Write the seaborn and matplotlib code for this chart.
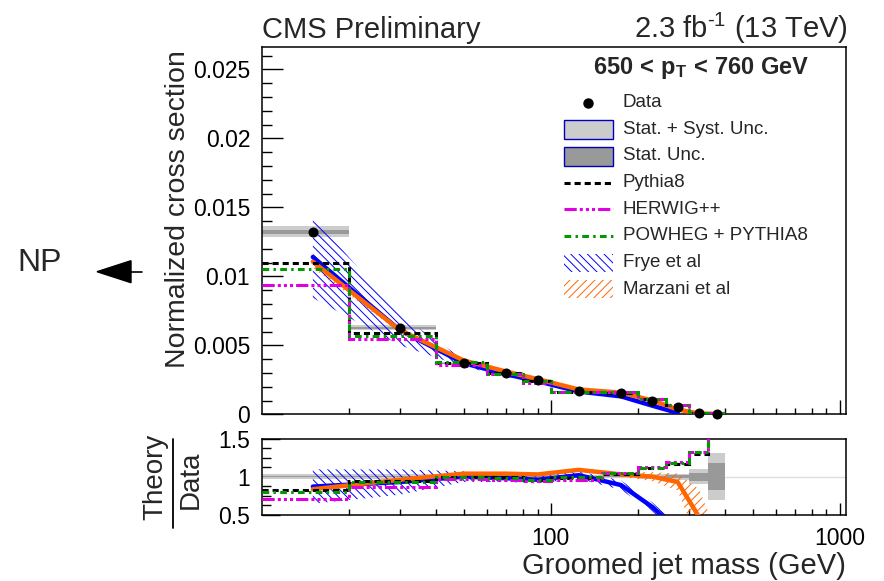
import numpy as np
import matplotlib
matplotlib.use("Agg")
import matplotlib.pyplot as plt
import seaborn as sns
from matplotlib.lines import Line2D
from matplotlib.patches import Rectangle, Polygon
from matplotlib.ticker import FixedLocator, MultipleLocator, NullFormatter, FuncFormatter

# ---------------- data ----------------
bin_edges = [10, 20, 40, 60, 80, 100, 150, 200, 250, 300, 350, 400]
bin_centers = [15, 30, 50, 70, 90, 125, 175, 225, 275, 325, 375]

data_values = [0.01323, 0.00628, 0.00370, 0.00300, 0.00249, 0.00166, 0.00152, 0.00099, 0.00055, 0.00008, 0.00003]
data_rel_total = [0.03, 0.03, 0.02, 0.02, 0.02, 0.02, 0.02, 0.03, 0.04, 0.10, 0.31]
data_rel_stat = [0.01, 0.01, 0.01, 0.01, 0.01, 0.01, 0.01, 0.015, 0.02, 0.05, 0.18]

pythia8_values = [0.0110, 0.0059, 0.0037, 0.0030, 0.0024, 0.00163, 0.00157, 0.00110, 0.00064, 0.00011, 0.00006]
herwig_values = [0.0094, 0.00545, 0.0036, 0.0029, 0.0023, 0.00160, 0.00160, 0.00112, 0.00066, 0.00011, 0.00006]
powheg_values = [0.0105, 0.0057, 0.0038, 0.00295, 0.0024, 0.00165, 0.00160, 0.00111, 0.00065, 0.00011, 0.00006]

pythia8_ratio = [0.825, 0.945, 0.99, 0.99, 0.96, 0.98, 1.04, 1.11, 1.17, 1.30, 1.8]
herwig_ratio = [0.71, 0.87, 0.97, 0.96, 0.94, 0.96, 1.05, 1.13, 1.19, 1.33, 1.8]
powheg_ratio = [0.795, 0.925, 1.00, 0.98, 0.96, 0.99, 1.05, 1.12, 1.18, 1.32, 1.8]

frye_mass = [15, 30, 50, 70, 90, 125, 175, 225, 275]
frye_values = [0.0114, 0.0061, 0.0037, 0.0029, 0.0024, 0.00165, 0.00130, 0.00062, 0.0001]
frye_ratio = [0.87, 0.93, 1.00, 0.98, 0.96, 1.02, 0.89, 0.60, 0.30]
frye_rel_band = [0.26, 0.18, 0.07, 0.05, 0.05, 0.05, 0.07, 0.10, 0.20]

marzani_mass = [15, 30, 50, 70, 90, 125, 175, 225, 275, 325, 375]
marzani_values = [0.01106, 0.0061, 0.0039, 0.0031, 0.00255, 0.00180, 0.00157, 0.00100, 0.00035, 0.00006, 0.00002]
marzani_ratio = [0.835, 0.96, 1.04, 1.04, 1.03, 1.09, 1.03, 1.00, 0.93, 0.48, 0.15]
marzani_rel_band = [0.04, 0.03, 0.02, 0.02, 0.02, 0.02, 0.03, 0.06, 0.12, 0.75, 0.9]

# ---------------- style ----------------
sns.set_theme(style="ticks")
plt.rcParams["font.family"] = ["Liberation Sans", "DejaVu Sans"]
plt.rcParams["mathtext.fontset"] = "custom"
plt.rcParams["mathtext.rm"] = "Liberation Sans"
plt.rcParams["mathtext.it"] = "Liberation Sans:italic"
plt.rcParams["mathtext.bf"] = "Liberation Sans:bold"
plt.rcParams["hatch.linewidth"] = 0.7
plt.rcParams["axes.linewidth"] = 1.1

W, H = 884, 581
fig = plt.figure(figsize=(W / 100, H / 100), dpi=100)


def F(x, y):
    return (x / W, 1 - y / H)


L, R = 262, 845.7
ax = fig.add_axes([L / W, 1 - 414.3 / H, (R - L) / W, (414.3 - 47.3) / H])
axr = fig.add_axes([L / W, 1 - 514.7 / H, (R - L) / W, (514.7 - 438.7) / H])

BLUE = "#0000ff"
ORANGE = "#ff6600"
MAG = "#e000e0"
GREEN = "#009900"
LGRAY = "#cccccc"
DGRAY = "#999999"
HATCH_B = "\\\\\\\\"
HATCH_O = "////"

edges = np.array(bin_edges, dtype=float)
widths = np.diff(edges)
dv = np.array(data_values)

ls_pythia = (0, (2.0, 1.3))
ls_herwig = (0, (4.0, 1.0, 1.0, 1.0, 1.0, 1.0, 1.0, 1.0))
ls_powheg = (0, (2.2, 1.4, 0.8, 1.4))
mc_lw = 2.2
th_lw = 3.2

# ---------------- top panel ----------------
tot = dv * np.array(data_rel_total)
sta = dv * np.array(data_rel_stat)
ax.bar(edges[:-1], 2 * tot, bottom=dv - tot, width=widths, align="edge", color=LGRAY, lw=0, zorder=1)
ax.bar(edges[:-1], 2 * sta, bottom=dv - sta, width=widths, align="edge", color=DGRAY, lw=0, zorder=1.1)

fv = np.array(frye_values); fr = np.array(frye_rel_band)
ax.fill_between(frye_mass, fv * (1 - fr), fv * (1 + fr), facecolor="none", edgecolor=BLUE,
                hatch=HATCH_B, lw=0, zorder=2)
mv = np.array(marzani_values); mr = np.array(marzani_rel_band)
ax.fill_between(marzani_mass, mv * (1 - mr), mv * (1 + mr), facecolor="none", edgecolor=ORANGE,
                hatch=HATCH_O, lw=0, zorder=2)

sns.lineplot(x=frye_mass, y=frye_values, ax=ax, color=BLUE, lw=th_lw, estimator=None, sort=False, zorder=3)
sns.lineplot(x=marzani_mass, y=marzani_values, ax=ax, color=ORANGE, lw=th_lw, estimator=None, sort=False, zorder=3.1)

ax.stairs(pythia8_values, edges, baseline=None, color="black", lw=mc_lw, linestyle=ls_pythia, zorder=4)
ax.stairs(herwig_values, edges, baseline=None, color=MAG, lw=mc_lw, linestyle=ls_herwig, zorder=4)
ax.stairs(powheg_values, edges, baseline=None, color=GREEN, lw=mc_lw, linestyle=ls_powheg, zorder=4)

sns.scatterplot(x=bin_centers, y=data_values, ax=ax, color="black", s=52, edgecolor="black",
                linewidth=0, zorder=5, clip_on=False)

ax.set_xscale("log")
ax.set_xlim(10, 1050)
ax.set_ylim(0, 0.0266)

# ---------------- ratio panel ----------------
axr.axhline(1, color="#dddddd", lw=1, zorder=0)
rt = np.array(data_rel_total); rs = np.array(data_rel_stat)
axr.bar(edges[:-1], 2 * rt, bottom=1 - rt, width=widths, align="edge", color=LGRAY, lw=0, zorder=1)
axr.bar(edges[:-1], 2 * rs, bottom=1 - rs, width=widths, align="edge", color=DGRAY, lw=0, zorder=1.1)

frr = np.array(frye_ratio)
axr.fill_between(frye_mass, frr * (1 - fr), frr * (1 + fr), facecolor="none", edgecolor=BLUE,
                 hatch=HATCH_B, lw=0, zorder=2)
mrr = np.array(marzani_ratio)
axr.fill_between(marzani_mass, mrr * (1 - mr), mrr * (1 + mr), facecolor="none", edgecolor=ORANGE,
                 hatch=HATCH_O, lw=0, zorder=2)

sns.lineplot(x=frye_mass, y=frye_ratio, ax=axr, color=BLUE, lw=th_lw, estimator=None, sort=False, zorder=3)
sns.lineplot(x=marzani_mass, y=marzani_ratio, ax=axr, color=ORANGE, lw=th_lw, estimator=None, sort=False, zorder=3.1)

axr.stairs(pythia8_ratio, edges, baseline=None, color="black", lw=mc_lw, linestyle=ls_pythia, zorder=4)
axr.stairs(herwig_ratio, edges, baseline=None, color=MAG, lw=mc_lw, linestyle=ls_herwig, zorder=4)
axr.stairs(powheg_ratio, edges, baseline=None, color=GREEN, lw=mc_lw, linestyle=ls_powheg, zorder=4)

axr.set_xscale("log")
axr.set_xlim(10, 1050)
axr.set_ylim(0.5, 1.5)

# ---------------- axes cosmetics ----------------
minor_x = [20, 30, 40, 50, 60, 70, 80, 90, 200, 300, 400, 500, 600, 700, 800, 900]
for a in (ax, axr):
    for s in a.spines.values():
        s.set_color("black")
        s.set_linewidth(1.1)
    a.xaxis.set_major_locator(FixedLocator([100, 1000]))
    a.xaxis.set_minor_locator(FixedLocator(minor_x))
    a.xaxis.set_minor_formatter(NullFormatter())
    a.set_xlabel("")
    a.set_ylabel("")
    a.tick_params(axis="both", which="both", direction="in", top=False, right=False,
                  colors="black", labelsize=16.5, width=1.0)

ax.xaxis.set_major_formatter(NullFormatter())
ax.yaxis.set_major_locator(MultipleLocator(0.005))
ax.yaxis.set_minor_locator(MultipleLocator(0.001))
ax.yaxis.set_major_formatter(FuncFormatter(lambda v, p: "0" if abs(v) < 1e-9 else ("%g" % v)))
ax.tick_params(axis="y", which="major", length=15, pad=8.5)
ax.tick_params(axis="y", which="minor", length=7.5)
ax.tick_params(axis="x", which="major", length=10)
ax.tick_params(axis="x", which="minor", length=4.5)

axr.xaxis.set_major_formatter(FuncFormatter(lambda v, p: "%d" % v))
axr.yaxis.set_major_locator(FixedLocator([0.5, 1.0, 1.5]))
axr.yaxis.set_minor_locator(MultipleLocator(0.125))
axr.yaxis.set_major_formatter(FuncFormatter(lambda v, p: "%g" % v))
axr.tick_params(axis="y", which="major", length=13, pad=8.5)
axr.tick_params(axis="y", which="minor", length=6.5)
axr.tick_params(axis="x", which="major", length=9, pad=9)
axr.tick_params(axis="x", which="minor", length=4)

# ---------------- texts ----------------
fig.text(*F(262, 38), "CMS Preliminary", fontsize=21, ha="left", va="baseline")
fig.text(*F(848, 38), r"2.3 fb$^{\text{-1}}$ (13 TeV)", fontsize=21, ha="right", va="baseline")
fig.text(*F(178, 50), "Normalized cross section", fontsize=20.5, rotation=90, ha="center", va="top")
fig.text(*F(846, 574), "Groomed jet mass (GeV)", fontsize=21, ha="right", va="baseline")

fig.text(*F(155, 477), "Theory", fontsize=20, rotation=90, ha="center", va="center")
fig.text(*F(191, 480), "Data", fontsize=20, rotation=90, ha="center", va="center")
fig.add_artist(Line2D([173 / W, 173 / W], [1 - 439 / H, 1 - 528 / H], color="black", lw=1.3,
                      transform=fig.transFigure))

# NP arrow
fig.text(*F(40, 263), "NP", fontsize=23, ha="center", va="center")
fig.add_artist(Polygon([F(97, 271.7), F(131, 260.7), F(131, 282.7)], closed=True, color="black",
                       transform=fig.transFigure))
fig.add_artist(Line2D([131 / W, 142 / W], [1 - 271.7 / H, 1 - 271.7 / H], color="black", lw=1.2,
                      transform=fig.transFigure))

# ---------------- legend (manual) ----------------
fig.text(*F(701, 68), r"$\mathbf{650\,<\,p_{T}\,<\,760\ GeV}$", fontsize=17, ha="center", va="center")
hx0, hx1 = 564, 612.7
tx = 623
rows = [102.7, 129.3, 156.0, 182.7, 209.3, 236.0, 262.7, 289.3]
labels = ["Data", "Stat. + Syst. Unc.", "Stat. Unc.", "Pythia8", "HERWIG++",
          "POWHEG + PYTHIA8", "Frye et al", "Marzani et al"]
for yy, lab in zip(rows, labels):
    fig.text(*F(tx, yy), lab, fontsize=13.5, ha="left", va="center")

fig.add_artist(Line2D([588 / W], [1 - rows[0] / H], marker="o", ms=6.5, color="black", ls="none",
                      transform=fig.transFigure))
for yy, fc in ((rows[1], LGRAY), (rows[2], DGRAY)):
    x0, y0 = F(hx0, yy + 9.5)
    fig.add_artist(Rectangle((x0, y0), (hx1 - hx0) / W, 19 / H, facecolor=fc, edgecolor="#0000bb",
                             lw=1.0, transform=fig.transFigure))
for yy, col, ls in ((rows[3], "black", ls_pythia), (rows[4], MAG, ls_herwig), (rows[5], GREEN, ls_powheg)):
    fig.add_artist(Line2D([hx0 / W, hx1 / W], [1 - yy / H, 1 - yy / H], color=col, lw=mc_lw, ls=ls,
                          transform=fig.transFigure))
for yy, col, hat in ((rows[6], BLUE, HATCH_B), (rows[7], ORANGE, HATCH_O)):
    x0, y0 = F(hx0, yy + 9)
    fig.add_artist(Rectangle((x0, y0), (hx1 - hx0) / W, 18 / H, facecolor="none", edgecolor=col,
                             hatch=hat, lw=0, transform=fig.transFigure))

fig.savefig("out.png", dpi=100)
